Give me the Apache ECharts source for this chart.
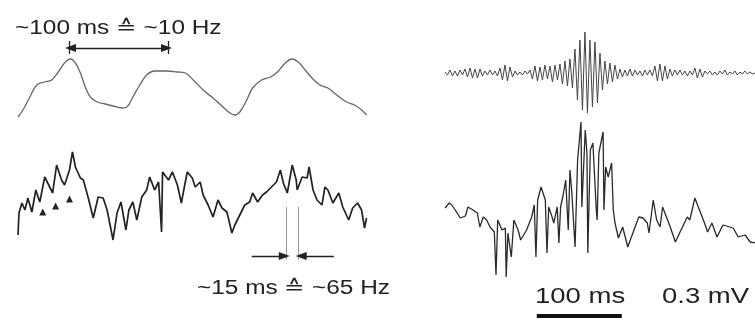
<!DOCTYPE html>
<html>
<head>
<meta charset="utf-8">
<script src="https://cdn.jsdelivr.net/npm/echarts@6/dist/echarts.min.js"></script>
<style>
  html, body { margin: 0; padding: 0; background: #fff; }
  #main { width: 755px; height: 320px; }
</style>
</head>
<body>
<div id="main"></div>
<script>
// trace A: filtered ~10 Hz component (left, top), time in ms, amplitude a.u.
const timeA = [0, 5, 12, 19, 27, 34, 40, 47, 53, 58, 63, 68, 73, 80, 88, 96, 105, 110, 116, 123, 130, 138, 150, 161, 169, 177, 187, 197, 207, 214, 219, 224, 231, 237, 246, 255, 262, 270, 277, 283, 290, 297, 305, 313, 322, 332, 340, 347, 352]
const ampA = [0, 7, 20, 32, 35, 37, 44, 54, 58, 54, 44, 30, 20, 15, 13, 11, 9, 10, 20, 32, 42, 46, 46, 45, 44, 37, 27, 19, 10, 4, 2, 5, 17, 29, 37, 40, 45, 54, 58, 55, 47, 39, 32, 29, 22, 15, 12, 7, 2]

// trace B: raw recording (left, bottom)
const timeB = [0, 1, 4, 7, 10, 14, 18, 22, 27, 32, 35, 39, 44, 47, 52, 55, 58, 63, 66, 71, 76, 81, 86, 90, 96, 100, 104, 109, 112, 116, 120, 125, 130, 133, 138, 142, 144, 145, 146, 152, 156, 161, 165, 168, 171, 176, 179, 184, 187, 192, 197, 202, 206, 211, 216, 219, 223, 229, 234, 237, 242, 247, 251, 256, 261, 265, 268, 272, 277, 281, 282, 287, 292, 294, 298, 302, 307, 310, 313, 318, 324, 328, 334, 338, 343, 347, 350, 352]
const ampB = [-35, -13, -3, -10, 2, -12, 10, -2, 23, 13, 7, 35, 20, 15, 30, 48, 33, 22, 20, 2, -18, 3, 2, -10, -40, -13, -2, -30, -10, -2, -20, 3, 10, 23, 10, 18, 20, -32, 28, 20, 28, 15, -3, 13, 28, 22, 13, 18, 5, -5, -17, 0, -8, -12, -33, -25, -17, -5, -2, 7, -2, 5, 8, 13, 18, 30, 17, 7, 35, 20, 10, 23, 22, 33, 10, 0, -5, 13, 10, -3, 7, -7, -20, -8, -3, -10, -28, -18]

// arrowheads marking single gamma cycles on trace B
const markTime = [25, 38, 52]
const markAmp = [-12, -6, 1]

// trace C: ripple band (right, top), uniform samples
const stepC = 2.94
const ampC = [1, -2, 3, -3, 2, -3, 3, -2,
  4, -4, 5, -5, 4, -5, 4, -3,
  2, -2, 3, -2, 2, -3,
  5, -7, 8, -8, 6, -4,
  2, -2, 1, -2, 2, -1, 3,
  -6, 7, -8, 6, -7, 8, -6, 7, -9, 8, -7,
  9, -11, 12, -13, 14, -15,
  24, -27, 33, -37, 41, -40, 33, -34, 31, -30, 20, -17,
  12, -11, 10, -9, 8, -6,
  4, -4, 3, -3, 4, -3, 3, -2,
  2, -3, 3, -2, 3, -3,
  7, -8, 9, -8, 7, -6, 4,
  -3, 3, -2, 3, -2, 2, -3, 2, -2,
  5, -5, 4, -4,
  2, -1, 2, -2, 1, -2, 2, -1, 3, -2, 1, -1, 2, -2, 1, -1, 2, -1, 1, -1,
  0]

// trace D: raw recording with sharp wave ripple (right, bottom)
const timeD = [0, 5, 8, 12, 18, 24, 27, 33, 38, 41, 45, 49, 53, 58, 60, 62, 67, 71, 72, 74, 78, 81, 86, 89, 96, 102, 105, 107, 109, 113, 118, 120, 122, 126, 128, 132, 134, 136, 139, 142, 145, 147, 149, 153, 156, 160, 161, 165, 167, 168, 171, 174, 178, 179, 181, 186, 187, 189, 192, 196, 198, 200, 204, 209, 215, 221, 228, 233, 238, 240, 245, 249, 253, 256, 265, 271, 276, 285, 288, 294, 298, 304, 309, 314, 320, 327, 339, 345, 353, 359, 365]
const ampD = [-8, -3, -5, -10, -18, -16, -7, -10, -13, -27, -17, -20, -27, -32, -75, -20, -30, -28, -77, -33, -57, -20, -30, -40, -30, -17, -5, -57, 0, 13, 0, -53, -7, -17, -23, -7, -43, -7, 5, 20, -30, 30, 10, -47, 40, 78, -7, 70, 47, -53, 50, 57, -10, -20, 47, 68, -10, 33, 23, 37, -10, -23, -38, -27, -47, -33, -17, -18, -23, -33, 0, -20, -27, -7, -27, -42, -33, -17, -20, 2, -7, -20, -32, -23, -37, -25, -28, -37, -35, -42, -43]

const pairs = (t, v) => t.map((x, i) => [x, v[i]])
const dataC = ampC.map((v, i) => [i * stepC, v])

var myChart = echarts.init(document.getElementById('main'))

const hidden = { show: false }
const ann = { color: '#222', width: 1.3, type: 'solid' }
const thin = { color: '#999', width: 1, type: 'solid' }
const txtFont = '20px "Liberation Sans", Arial, sans-serif'

var option = {
  animation: false,
  backgroundColor: '#fff',
  grid: [
    { left: 18, top: 40, width: 350, height: 90 },
    { left: 18, top: 140, width: 350, height: 180 },
    { left: 445, top: 20, width: 310, height: 110 },
    { left: 445, top: 110, width: 310, height: 210 }
  ],
  xAxis: [
    { type: 'value', gridIndex: 0, min: 0, max: 353.5, ...hidden },
    { type: 'value', gridIndex: 1, min: 0, max: 353.5, ...hidden },
    { type: 'value', gridIndex: 2, min: 0, max: 364.7, ...hidden },
    { type: 'value', gridIndex: 3, min: 0, max: 364.7, ...hidden }
  ],
  yAxis: [
    { type: 'value', gridIndex: 0, min: -13, max: 77, ...hidden },
    { type: 'value', gridIndex: 1, min: -120, max: 60, ...hidden },
    { type: 'value', gridIndex: 2, min: -57, max: 53, ...hidden },
    { type: 'value', gridIndex: 3, min: -120, max: 90, ...hidden }
  ],
  series: [
    {
      type: 'line', xAxisIndex: 0, yAxisIndex: 0,
      data: pairs(timeA, ampA), smooth: 0.4, showSymbol: false,
      lineStyle: { color: '#666', width: 1.3 },
      markLine: {
        silent: true, symbol: 'none', label: { show: false }, lineStyle: ann,
        data: [
          [{ coord: [51.5, 63] }, { coord: [51.5, 76] }],
          [{ coord: [151.5, 63] }, { coord: [151.5, 76] }],
          [{ coord: [53, 69], symbol: 'triangle', symbolSize: [8, 11] },
           { coord: [150, 69], symbol: 'triangle', symbolSize: [8, 11] }]
        ]
      }
    },
    {
      type: 'line', xAxisIndex: 1, yAxisIndex: 1,
      data: pairs(timeB, ampB), showSymbol: false,
      lineStyle: { color: '#222', width: 1.7 },
      markLine: {
        silent: true, symbol: 'none', label: { show: false }, lineStyle: thin,
        data: [
          [{ coord: [271, -7], lineStyle: thin }, { coord: [271, -60] }],
          [{ coord: [283, -7], lineStyle: thin }, { coord: [283, -60] }],
          [{ coord: [236, -56], lineStyle: ann }, { coord: [269, -56], symbol: 'triangle', symbolSize: [8, 11] }],
          [{ coord: [319, -56], lineStyle: ann }, { coord: [286, -56], symbol: 'triangle', symbolSize: [8, 11] }]
        ]
      }
    },
    {
      type: 'scatter', xAxisIndex: 1, yAxisIndex: 1,
      data: pairs(markTime, markAmp), symbol: 'triangle', symbolSize: 7,
      itemStyle: { color: '#222', opacity: 1 }
    },
    {
      type: 'line', xAxisIndex: 2, yAxisIndex: 2,
      data: dataC, showSymbol: false,
      lineStyle: { color: '#444', width: 1 }
    },
    {
      type: 'line', xAxisIndex: 3, yAxisIndex: 3,
      data: pairs(timeD, ampD), showSymbol: false,
      lineStyle: { color: '#2a2a2a', width: 1.3 },
      markLine: {
        silent: true, symbol: 'none', label: { show: false },
        lineStyle: { color: '#111', width: 4, type: 'solid' },
        data: [[{ coord: [108, -116] }, { coord: [208, -116] }]]
      }
    }
  ],
  graphic: [
    { type: 'text', x: 15, y: 28, scaleX: 1.22, style: { text: '~100 ms \u2259 ~10 Hz', font: txtFont, fill: '#222', textVerticalAlign: 'middle' } },
    { type: 'text', x: 197, y: 288, scaleX: 1.22, style: { text: '~15 ms \u2259 ~65 Hz', font: txtFont, fill: '#222', textVerticalAlign: 'middle' } },
    { type: 'text', x: 535, y: 297, scaleX: 1.25, style: { text: '100 ms', font: '22px "Liberation Sans", Arial, sans-serif', fill: '#222', textVerticalAlign: 'middle' } },
    { type: 'text', x: 662, y: 297, scaleX: 1.25, style: { text: '0.3 mV', font: '22px "Liberation Sans", Arial, sans-serif', fill: '#222', textVerticalAlign: 'middle' } }
  ]
}
myChart.setOption(option)
</script>
</body>
</html>
